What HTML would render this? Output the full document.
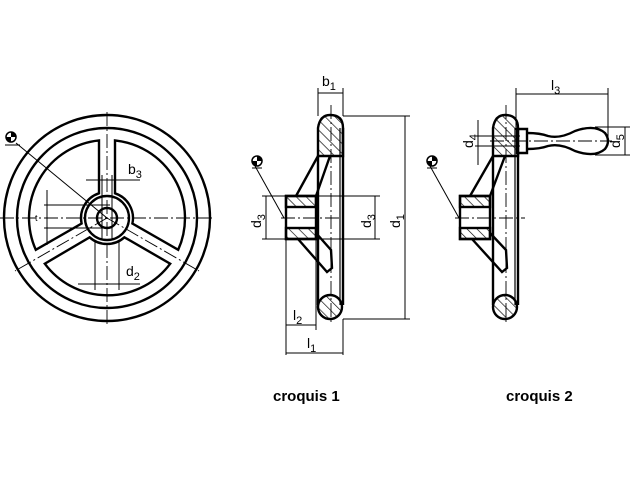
<!DOCTYPE html>
<html><head><meta charset="utf-8"><style>
html,body{margin:0;padding:0;background:#fff;}
svg{display:block;}
text{font-family:"Liberation Sans",sans-serif;fill:#000;}
</style></head><body>
<svg width="640" height="480" viewBox="0 0 640 480" xmlns="http://www.w3.org/2000/svg">
<defs>
<pattern id="h" width="7" height="7" patternUnits="userSpaceOnUse" patternTransform="rotate(-45)">
<line x1="0" y1="0" x2="0" y2="7" stroke="#000" stroke-width="1.3"/></pattern>
</defs>
<g fill="none" stroke="#000">
<!-- front view -->
<g stroke-width="2.4">
<circle cx="107" cy="218" r="103"/>
<circle cx="107" cy="218" r="90"/>
<path d="M35.8,249.8 A78,78 0 0 1 99,140.4 L99,193.3 A26,26 0 0 0 81.6,223.5 Z"/>
<path d="M115,140.4 A78,78 0 0 1 178.2,249.8 L132.4,223.5 A26,26 0 0 0 115,193.3 Z"/>
<path d="M170.2,263.7 A78,78 0 0 1 44.8,263.7 L89.6,237.3 A26,26 0 0 0 124.4,237.3 Z"/>
<circle cx="107" cy="218" r="22"/>
<circle cx="107" cy="218" r="10"/>
</g>
<g stroke-width="0.9" stroke-dasharray="14,3,2,3">
<line x1="0" y1="218" x2="212" y2="218"/>
<line x1="107" y1="112" x2="107" y2="325"/>
<line x1="107" y1="218" x2="15" y2="271"/>
<line x1="107" y1="218" x2="199" y2="271"/>
</g>
<g stroke-width="1">
<line x1="86" y1="180" x2="140" y2="180"/>
<line x1="102" y1="175" x2="102" y2="240"/>
<line x1="112" y1="175" x2="112" y2="240"/>
<line x1="78" y1="284" x2="140" y2="284"/>
<line x1="95" y1="240" x2="95" y2="290"/>
<line x1="119" y1="240" x2="119" y2="290"/>
<line x1="44" y1="205" x2="110" y2="205"/>
<line x1="44" y1="228" x2="110" y2="228"/>
<line x1="47" y1="190" x2="47" y2="245"/>
<line x1="5" y1="145" x2="20" y2="145"/>
<line x1="16" y1="143" x2="107" y2="218"/>
</g>
<!-- croquis 1 -->
<g stroke-width="2.4">
<path d="M318,156 L318,128 Q320,115 330,115 Q343,115 343,128 L343,156 Z" fill="url(#h)"/>
<circle cx="330" cy="307" r="12" fill="url(#h)"/>
<line x1="318" y1="156" x2="318" y2="305"/>
<line x1="343" y1="128" x2="343" y2="305"/>
<path d="M286,196 L316,196 L316,239 L286,239 Z"/>
<rect x="286" y="196" width="30" height="11" fill="url(#h)"/>
<rect x="286" y="228" width="30" height="11" fill="url(#h)"/>
<line x1="296" y1="196" x2="318" y2="156"/>
<line x1="316" y1="196" x2="330" y2="156"/>
<path d="M298,239 L327,272 L332,268 L331,250 L316,233"/>
</g>
<line x1="340" y1="128" x2="340" y2="305" stroke-width="1.2"/>
<g stroke-width="0.9" stroke-dasharray="14,3,2,3">
<line x1="331" y1="105" x2="331" y2="325"/>
<line x1="281" y1="218" x2="345" y2="218"/>
</g>
<g stroke-width="1">
<line x1="318" y1="88" x2="318" y2="116"/><line x1="343" y1="88" x2="343" y2="116"/>
<line x1="318" y1="93" x2="343" y2="93"/>
<line x1="343" y1="116" x2="410" y2="116"/><line x1="343" y1="319" x2="410" y2="319"/>
<line x1="405" y1="116" x2="405" y2="319"/>
<line x1="262" y1="196" x2="286" y2="196"/><line x1="262" y1="239" x2="286" y2="239"/>
<line x1="266" y1="196" x2="266" y2="239"/>
<line x1="316" y1="196" x2="380" y2="196"/><line x1="316" y1="239" x2="380" y2="239"/>
<line x1="375" y1="196" x2="375" y2="239"/>
<line x1="286" y1="239" x2="286" y2="355"/>
<line x1="316" y1="239" x2="316" y2="330"/>
<line x1="343" y1="319" x2="343" y2="355"/>
<line x1="286" y1="325" x2="316" y2="325"/>
<line x1="286" y1="353" x2="343" y2="353"/>
<line x1="252" y1="168" x2="262" y2="168"/>
<line x1="255" y1="166" x2="284" y2="218"/>
</g>
<!-- croquis 2 -->
<g stroke-width="2.4">
<path d="M493,156 L493,128 Q495,115 505,115 Q518,115 518,128 L518,156 Z" fill="url(#h)"/>
<circle cx="505" cy="307" r="12" fill="url(#h)"/>
<line x1="493" y1="156" x2="493" y2="305"/>
<line x1="518" y1="128" x2="518" y2="305"/>
<path d="M460,196 L490,196 L490,239 L460,239 Z"/>
<rect x="460" y="196" width="30" height="11" fill="url(#h)"/>
<rect x="460" y="228" width="30" height="11" fill="url(#h)"/>
<line x1="470" y1="196" x2="493" y2="156"/>
<line x1="490" y1="196" x2="505" y2="156"/>
<path d="M472,239 L502,272 L507,268 L506,250 L490,233"/>
<path d="M517,129 L527,129 L527,153 L517,153 Z"/>
<path d="M527,133 Q540,133 548,136 Q560,139 575,131 Q595,124 605,133 Q611,141 605,149 Q595,158 575,151 Q560,143 548,146 Q540,149 527,149"/>
</g>
<line x1="515" y1="128" x2="515" y2="305" stroke-width="1.2"/>
<g stroke-width="0.9" stroke-dasharray="14,3,2,3">
<line x1="506" y1="105" x2="506" y2="325"/>
<line x1="455" y1="218" x2="525" y2="218"/>
<line x1="490" y1="141" x2="612" y2="141"/>
</g>
<g stroke-width="1">
<line x1="516" y1="88" x2="516" y2="130"/><line x1="608" y1="88" x2="608" y2="141"/>
<line x1="516" y1="94" x2="608" y2="94"/>
<line x1="595" y1="127" x2="630" y2="127"/><line x1="595" y1="155" x2="630" y2="155"/>
<line x1="625" y1="127" x2="625" y2="155"/>
<line x1="475" y1="136" x2="520" y2="136"/><line x1="475" y1="146" x2="520" y2="146"/>
<line x1="478" y1="120" x2="478" y2="165"/>
<line x1="427" y1="168" x2="437" y2="168"/>
<line x1="430" y1="166" x2="459" y2="218"/>
</g>
</g>
<!-- symbols -->
<g>
<circle cx="11" cy="137" r="5" fill="#fff" stroke="#000" stroke-width="1.5"/>
<path d="M11,132 A5,5 0 0 1 16,137 L11,137 Z M11,137 L6,137 A5,5 0 0 0 11,142 Z" fill="#000"/>
<circle cx="257" cy="161" r="5" fill="#fff" stroke="#000" stroke-width="1.5"/>
<path d="M257,156 A5,5 0 0 1 262,161 L257,161 Z M257,161 L252,161 A5,5 0 0 0 257,166 Z" fill="#000"/>
<circle cx="432" cy="161" r="5" fill="#fff" stroke="#000" stroke-width="1.5"/>
<path d="M432,156 A5,5 0 0 1 437,161 L432,161 Z M432,161 L427,161 A5,5 0 0 0 432,166 Z" fill="#000"/>
</g>
<!-- labels -->
<g font-size="14">
<text x="128" y="174">b<tspan font-size="11" dy="4">3</tspan></text>
<text x="126" y="276">d<tspan font-size="11" dy="4">2</tspan></text>
<text x="35" y="221" font-size="9">t</text>
<text x="322" y="86">b<tspan font-size="11" dy="4">1</tspan></text>
<text x="293" y="320">l<tspan font-size="11" dy="4">2</tspan></text>
<text x="307" y="348">l<tspan font-size="11" dy="4">1</tspan></text>
<text x="551" y="90">l<tspan font-size="11" dy="4">3</tspan></text>
<text transform="translate(261,228) rotate(-90)">d<tspan font-size="11" dy="4">3</tspan></text>
<text transform="translate(371,228) rotate(-90)">d<tspan font-size="11" dy="4">3</tspan></text>
<text transform="translate(400,228) rotate(-90)">d<tspan font-size="11" dy="4">1</tspan></text>
<text transform="translate(620,148) rotate(-90)">d<tspan font-size="11" dy="4">5</tspan></text>
<text transform="translate(473,148) rotate(-90)">d<tspan font-size="11" dy="4">4</tspan></text>
</g>
<text x="273" y="401" font-size="15" font-weight="bold">croquis 1</text>
<text x="506" y="401" font-size="15" font-weight="bold">croquis 2</text>
</svg>
</body></html>
